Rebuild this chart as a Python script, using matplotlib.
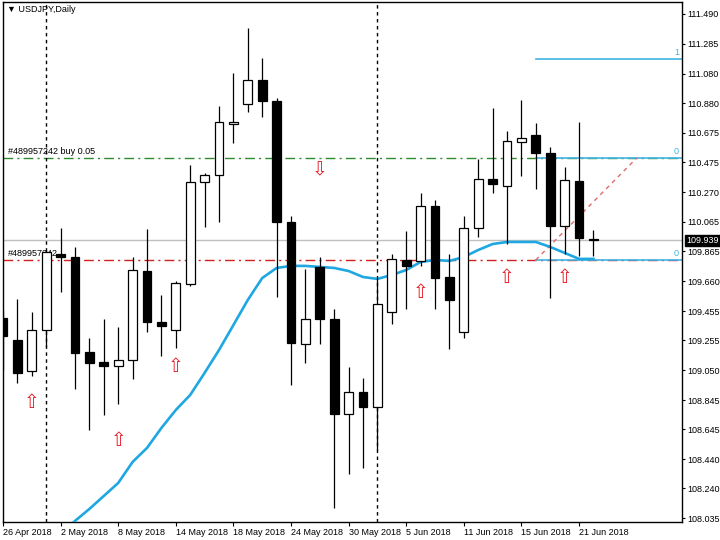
import matplotlib
matplotlib.use('Agg')
import matplotlib.pyplot as plt
from matplotlib.patches import Rectangle
import pandas as pd

# ---------------- data ----------------
dates = pd.bdate_range('2018-04-26', '2018-06-22')
opens = [109.407, 109.257, 109.044, 109.325, 109.846, 109.825, 109.174, 109.106, 109.078, 109.120,
         109.729, 109.380, 109.325, 109.640, 110.339, 110.387, 110.736, 110.873, 111.038, 110.894,
         110.065, 109.229, 109.757, 109.400, 108.750, 108.900, 108.798, 109.448, 109.805, 109.798,
         110.175, 109.688, 109.311, 110.024, 110.360, 110.312, 110.613, 110.661, 110.538, 110.038,
         110.346, 109.949]
highs = [109.462, 109.538, 109.448, 109.873, 110.024, 109.894, 109.270, 109.400, 109.346, 109.825,
         110.017, 109.565, 109.661, 110.456, 110.401, 110.860, 111.086, 111.394, 111.189, 110.915,
         110.106, 109.743, 109.825, 109.469, 109.072, 108.996, 109.688, 109.846, 110.003, 110.264,
         110.216, 109.846, 110.106, 110.497, 110.846, 110.688, 110.901, 110.743, 110.579, 110.442,
         110.750, 110.010]
lows = [109.051, 108.962, 109.010, 109.209, 109.585, 108.921, 108.640, 108.743, 108.818, 108.989,
        109.311, 109.147, 109.202, 109.627, 110.031, 110.065, 110.606, 110.819, 110.784, 109.551,
        108.948, 109.099, 109.229, 108.106, 108.339, 108.380, 108.503, 109.366, 109.469, 109.764,
        109.469, 109.195, 109.270, 109.962, 110.264, 109.914, 110.380, 110.291, 109.544, 109.846,
        109.832, 109.832]
closes = [109.284, 109.031, 109.325, 109.860, 109.825, 109.168, 109.099, 109.078, 109.120, 109.736,
          109.380, 109.353, 109.647, 110.339, 110.387, 110.750, 110.750, 111.038, 110.894, 110.065,
          109.236, 109.400, 109.400, 108.750, 108.900, 108.798, 109.503, 109.812, 109.764, 110.175,
          109.681, 109.531, 110.024, 110.360, 110.325, 110.620, 110.641, 110.538, 110.038, 110.353,
          109.955, 109.939]

ma_start = 4
ma_values = [107.930, 108.017, 108.099, 108.188, 108.277, 108.421, 108.517, 108.654, 108.777, 108.880,
             109.031, 109.188, 109.359, 109.531, 109.681, 109.750, 109.764, 109.764, 109.757, 109.750,
             109.729, 109.688, 109.675, 109.702, 109.736, 109.791, 109.805, 109.798, 109.825, 109.873,
             109.914, 109.928, 109.928, 109.928, 109.894, 109.853, 109.812, 109.812]

current_price = 109.939
buy_price = 110.503
sl_price = 109.805
fibo_top = 111.182
fibo_start = 37
diag_end_index = 44

up_arrow_idx = [2, 8, 12, 29, 35, 39]
up_arrow_price = [108.825, 108.565, 109.078, 109.579, 109.688, 109.688]
down_arrow_idx = [22]
down_arrow_price = [110.421]

vlines_idx = [3, 26]

xtick_idx = [0, 4, 8, 12, 16, 20, 24, 28, 32, 36, 40]
xtick_labels = ['26 Apr 2018', '2 May 2018', '8 May 2018', '14 May 2018', '18 May 2018',
                '24 May 2018', '30 May 2018', '5 Jun 2018', '11 Jun 2018', '15 Jun 2018',
                '21 Jun 2018']
ytick_labels = ['111.490', '111.285', '111.080', '110.880', '110.675', '110.475', '110.270',
                '110.065', '109.865', '109.660', '109.455', '109.255', '109.050', '108.845',
                '108.645', '108.440', '108.240', '108.035']

# ---------------- figure ----------------
plt.rcParams['font.family'] = ['Liberation Sans', 'DejaVu Sans']
FS = 6.5
W, H = 720, 540
fig = plt.figure(figsize=(7.2, 5.4), dpi=100)
ax = fig.add_axes([2.7 / W, 18.5 / H, (682 - 2.7) / W, (521.5 - 2) / H])
ax.set_xlim(-0.021, 47.15)
ax.set_ylim(108.013, 111.572)

# reference lines
ax.axhline(current_price, color='#c0c0c0', lw=1, zorder=1)
ax.axhline(buy_price, color='#2e8b2e', lw=1, ls=(0, (7, 3, 1.5, 3)), zorder=1)
ax.axhline(sl_price, color='#d02020', lw=1, ls=(0, (7, 3, 1.5, 3)), zorder=1)
for vi in vlines_idx:
    ax.axvline(vi, color='black', lw=1, ls=(0, (2.5, 2.5)), zorder=1)

# order labels
ax.text(0.35, buy_price + 0.012, '#489957242 buy 0.05', fontsize=FS, va='bottom', ha='left', zorder=1)
ax.text(0.35, sl_price + 0.012, '#489957242', fontsize=FS, va='bottom', ha='left', zorder=1)

# fibo lines
fib_color = '#3fb4e4'
x_right = 47.15
for lvl, lab in [(fibo_top, '1'), (buy_price, '0'), (sl_price, '0')]:
    ax.plot([fibo_start, x_right], [lvl, lvl], color=fib_color, lw=1.2, zorder=2, clip_on=True)
    ax.text(46.95, lvl + 0.012, lab, color=fib_color, fontsize=6.5, ha='right', va='bottom', zorder=2)
ax.plot([fibo_start, diag_end_index], [sl_price, buy_price], color='#e06a6a', lw=1,
        ls=(0, (3, 3)), zorder=2)

# moving average
ma_x = list(range(ma_start, ma_start + len(ma_values)))
ax.plot(ma_x, ma_values, color='#1ea7e1', lw=1.9, zorder=3, solid_joinstyle='round')

# candles
bw = 0.62
for i in range(len(opens)):
    o, h, l, c = opens[i], highs[i], lows[i], closes[i]
    ax.plot([i, i], [l, h], color='black', lw=0.9, zorder=4, solid_capstyle='butt')
    bottom = min(o, c)
    height = max(abs(c - o), 0.008)
    face = 'white' if c >= o else 'black'
    ax.add_patch(Rectangle((i - bw / 2, bottom), bw, height, facecolor=face,
                           edgecolor='black', lw=0.9, zorder=5))

# arrows
for xi, yp in zip(up_arrow_idx, up_arrow_price):
    ax.text(xi, yp, '\u21e7', color='#e8202a', fontsize=13.5, ha='center', va='center',
            family='DejaVu Sans', zorder=6)
for xi, yp in zip(down_arrow_idx, down_arrow_price):
    ax.text(xi, yp, '\u21e9', color='#e8202a', fontsize=13.5, ha='center', va='center',
            family='DejaVu Sans', zorder=6)

# axes styling
for s in ax.spines.values():
    s.set_color('black')
    s.set_linewidth(1)
ax.yaxis.tick_right()
ax.set_yticks([float(t) for t in ytick_labels])
ax.set_yticklabels(ytick_labels)
ax.tick_params(axis='y', direction='out', length=2.5, width=0.8, pad=1.5, labelsize=FS)
ax.set_xticks(xtick_idx)
ax.set_xticklabels(xtick_labels)
ax.tick_params(axis='x', direction='out', length=3, width=0.8, pad=1.5, labelsize=FS)
for lab in ax.get_xticklabels():
    lab.set_ha('left')

# current price box
ax.annotate(f'{current_price:.3f}', xy=(1.0, current_price), xycoords=('axes fraction', 'data'),
            xytext=(3, 0), textcoords='offset points', fontsize=FS, color='white',
            ha='left', va='center',
            bbox=dict(boxstyle='square,pad=0.15', facecolor='black', edgecolor='black'))

# title
fig.text(7 / W, 1 - 10 / H, '\u25bc USDJPY,Daily', fontsize=FS, ha='left', va='center',
         family=['Liberation Sans', 'DejaVu Sans'])

fig.savefig('out.png', dpi=100)
